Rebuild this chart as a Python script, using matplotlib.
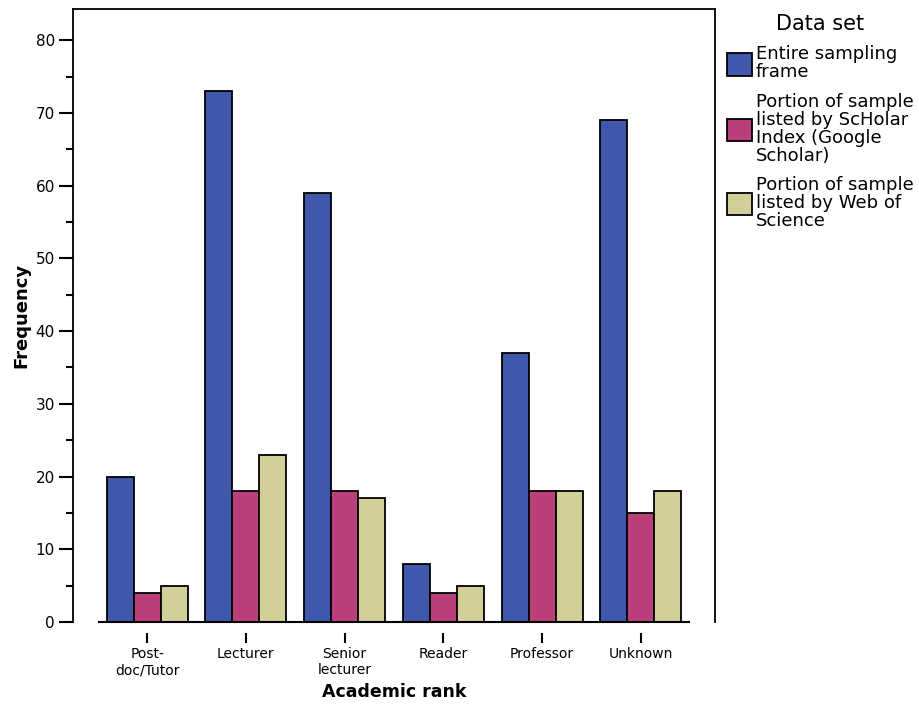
import numpy as np
import matplotlib.pyplot as plt

plt.rcParams['font.family'] = ['DejaVu Sans']

ranks = ["Post-\ndoc/Tutor", "Lecturer", "Senior\nlecturer", "Reader", "Professor", "Unknown"]
entire_frame = [20, 73, 59, 8, 37, 69]
scholar_index = [4, 18, 18, 4, 18, 15]
web_of_science = [5, 23, 17, 5, 18, 18]

series = ["Entire sampling\nframe",
          "Portion of sample\nlisted by ScHolar\nIndex (Google\nScholar)",
          "Portion of sample\nlisted by Web of\nScience"]
colors = ["#3F58AB", "#BB3F7B", "#D4CF98"]

fig = plt.figure(figsize=(9.2, 7.04), dpi=100)
ax = fig.add_axes([73/920, 82/704, (715-73)/920, (622-9)/704])

x = np.arange(len(ranks))
w = 0.273
for i, (vals, lab, c) in enumerate(zip([entire_frame, scholar_index, web_of_science], series, colors)):
    ax.bar(x + (i-1)*w, vals, width=w, color=c, edgecolor="black", linewidth=1.3, label=lab, zorder=3)

ax.set_xlim(-0.75, 5.75)
ax.set_ylim(0, 84.3)
ax.set_yticks(np.arange(0, 81, 10))
ax.set_yticks(np.arange(5, 80, 10), minor=True)
ax.set_xticks(x)
ax.set_xticklabels(ranks, fontsize=11.2, linespacing=0.85)
ax.tick_params(axis='y', which='major', length=10, width=1.5, labelsize=11, pad=3)
ax.tick_params(axis='y', which='minor', length=5, width=1.5)
ax.tick_params(axis='x', length=7, width=1.5, pad=3)

# baseline drawn across the category range, ticks hang below it
ax.spines['bottom'].set_position(('outward', 8))
ax.spines['bottom'].set_visible(False)
ax.hlines(0, -0.5, 5.5, color="black", linewidth=1.5, zorder=4, clip_on=False)
for s in ['left', 'top', 'right']:
    ax.spines[s].set_linewidth(1.3)

ax.set_ylabel("Frequency", fontsize=13, fontweight="bold", labelpad=4)
ax.set_xlabel("Academic rank", fontsize=12.5, fontweight="bold", labelpad=4)

leg = fig.legend(loc="upper left", bbox_to_anchor=(720/920, 0.99), frameon=False,
                 fontsize=13, title="Data set", title_fontsize=15,
                 handlelength=1.4, handleheight=1.5, handletextpad=0.2,
                 labelspacing=0.62, borderaxespad=0)
for t in leg.get_texts():
    t.set_linespacing(1.0)
for p in leg.get_patches():
    p.set_linewidth(1.3)

plt.savefig("out.png", dpi=100)
